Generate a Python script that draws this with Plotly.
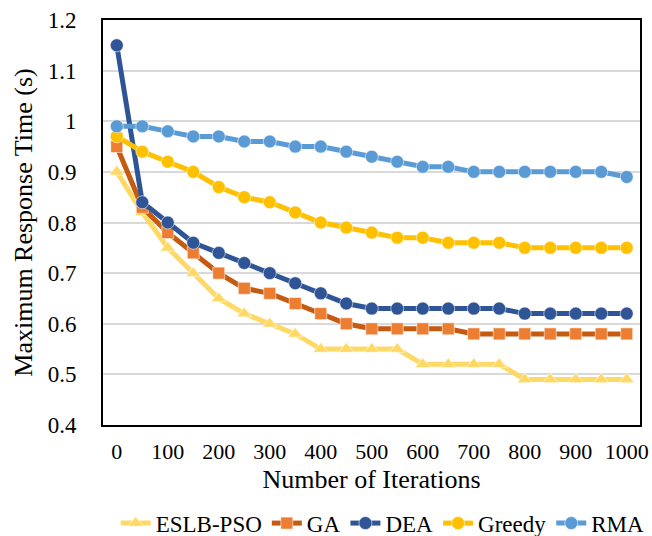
import plotly.graph_objects as go

iterations = list(range(0, 1001, 50))
eslb_pso = [0.90, 0.82, 0.75, 0.70, 0.65, 0.62, 0.60, 0.58, 0.55, 0.55, 0.55, 0.55, 0.52, 0.52, 0.52, 0.52, 0.49, 0.49, 0.49, 0.49, 0.49]
ga = [0.95, 0.83, 0.78, 0.74, 0.70, 0.67, 0.66, 0.64, 0.62, 0.60, 0.59, 0.59, 0.59, 0.59, 0.58, 0.58, 0.58, 0.58, 0.58, 0.58, 0.58]
dea = [1.15, 0.84, 0.80, 0.76, 0.74, 0.72, 0.70, 0.68, 0.66, 0.64, 0.63, 0.63, 0.63, 0.63, 0.63, 0.63, 0.62, 0.62, 0.62, 0.62, 0.62]
greedy = [0.97, 0.94, 0.92, 0.90, 0.87, 0.85, 0.84, 0.82, 0.80, 0.79, 0.78, 0.77, 0.77, 0.76, 0.76, 0.76, 0.75, 0.75, 0.75, 0.75, 0.75]
rma = [0.99, 0.99, 0.98, 0.97, 0.97, 0.96, 0.96, 0.95, 0.95, 0.94, 0.93, 0.92, 0.91, 0.91, 0.90, 0.90, 0.90, 0.90, 0.90, 0.90, 0.89]
x_ticks = list(range(0, 1001, 100))
y_ticks = [0.4, 0.5, 0.6, 0.7, 0.8, 0.9, 1.0, 1.1, 1.2]
y_tick_text = ["0.4", "0.5", "0.6", "0.7", "0.8", "0.9", "1", "1.1", "1.2"]

series = [
    ("ESLB-PSO", eslb_pso, "#FFD966", "#FFD966", "triangle-up", 13),
    ("GA", ga, "#C55A11", "#ED7D31", "square", 12),
    ("DEA", dea, "#2F5597", "#2F5597", "circle", 13),
    ("Greedy", greedy, "#FFC000", "#FFC000", "circle", 13),
    ("RMA", rma, "#5B9BD5", "#5B9BD5", "circle", 13),
]

fig = go.Figure()
for name, ys, lc, mc, sym, ms in series:
    fig.add_trace(go.Scatter(
        x=iterations, y=ys, name=name, mode="lines+markers",
        line=dict(color=lc, width=5),
        marker=dict(symbol=sym, size=ms, color=mc, line=dict(color="rgba(255,255,255,0.55)", width=1)),
    ))

font_family = "Liberation Serif"
fig.update_layout(
    width=652, height=536,
    margin=dict(l=103, r=12, t=20, b=111, autoexpand=False),
    paper_bgcolor="white", plot_bgcolor="white",
    font=dict(family=font_family, size=22, color="black"),
    showlegend=True,
    legend=dict(orientation="h", xref="container", yref="container",
                x=0.587, xanchor="center", y=0.024, yanchor="middle",
                font=dict(size=23, family=font_family), itemwidth=30, tracegroupgap=0,
                bgcolor="rgba(0,0,0,0)"),
    xaxis=dict(range=[-27, 1026], tickvals=x_ticks, showgrid=False, zeroline=False,
               showline=True, linecolor="black", linewidth=2, mirror=True,
               ticks="", ticklabelstandoff=6,
               title=dict(text="Number of Iterations", font=dict(size=26, family=font_family), standoff=6),
               tickfont=dict(size=22, family=font_family)),
    yaxis=dict(range=[0.4, 1.2], tickvals=y_ticks, ticktext=y_tick_text,
               showgrid=True, gridcolor="#D9D9D9", gridwidth=1.5, zeroline=False,
               showline=True, linecolor="black", linewidth=2, mirror=True,
               ticks="", ticklabelstandoff=20,
               title=dict(text="Maximum Response Time (s)", font=dict(size=26, family=font_family), standoff=8),
               tickfont=dict(size=23, family=font_family)),
)

fig.write_html("out.html")
